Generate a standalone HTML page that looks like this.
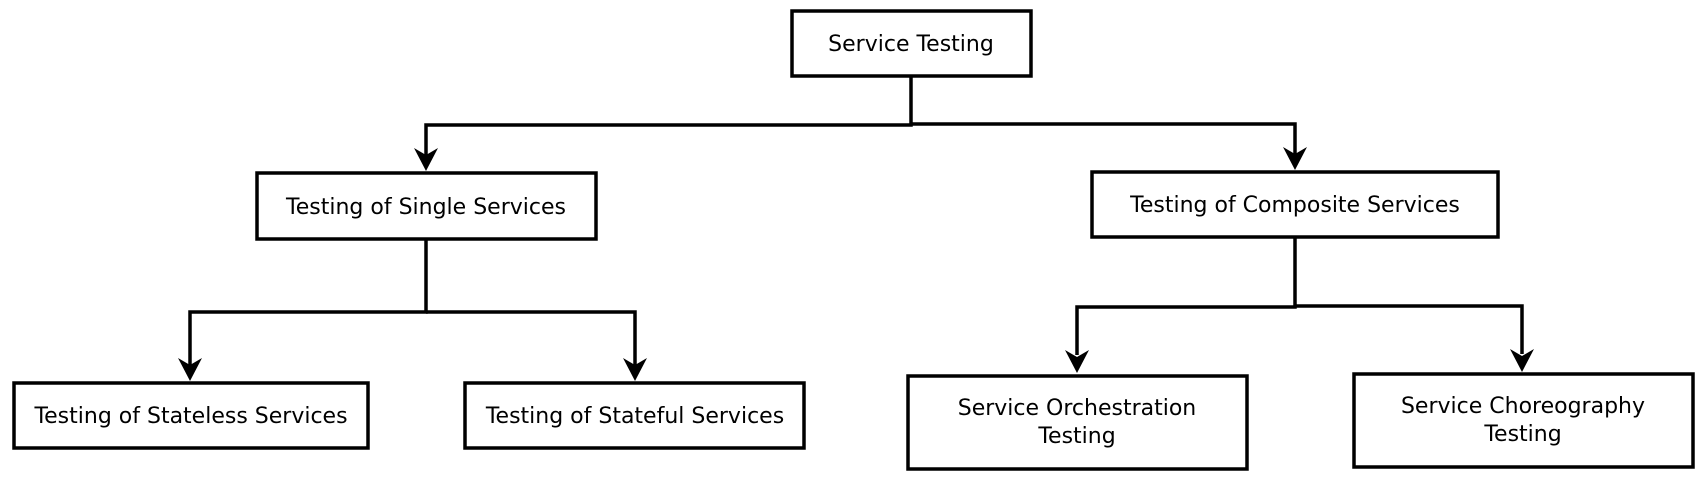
<!DOCTYPE html>
<html><head><meta charset="utf-8"><style>html,body{margin:0;padding:0;background:#fff}svg{display:block}</style></head>
<body>
<svg width="1705" height="488" viewBox="0 0 1705 488" xmlns="http://www.w3.org/2000/svg">
<g fill="none" stroke="#000" stroke-width="3.5">
<rect x="792" y="11" width="239" height="65"/>
<rect x="257" y="173" width="339" height="66"/>
<rect x="1092" y="172" width="406" height="65"/>
<rect x="14" y="383" width="354" height="65"/>
<rect x="465" y="383" width="339" height="65"/>
<rect x="908" y="376" width="339" height="93"/>
<rect x="1354" y="374" width="339" height="93"/>
<polyline points="911,76 911,125 426,125 426,155"/>
<polyline points="911,124 1295,124 1295,154"/>
<polyline points="426,239 426,312 190,312 190,365"/>
<polyline points="426,312 635,312 635,365"/>
<polyline points="1295,237 1295,307 1077,307 1077,355"/>
<polyline points="1295,306 1522,306 1522,354"/>
</g>
<g fill="#000">
<polygon points="414,148 426,171 438,148 426,155"/>
<polygon points="1283,147 1295,170 1307,147 1295,154"/>
<polygon points="178,358 190,381 202,358 190,365"/>
<polygon points="623,358 635,381 647,358 635,365"/>
<polygon points="1065,350 1077,373 1089,350 1077,357"/>
<polygon points="1510,349 1522,372 1534,349 1522,356"/>
</g>
<g font-family="'DejaVu Sans','Liberation Sans',sans-serif" font-size="22" text-anchor="middle" fill="#000">
<text x="911" y="51">Service Testing</text>
<text x="426" y="214">Testing of Single Services</text>
<text x="1295" y="212">Testing of Composite Services</text>
<text x="191" y="423">Testing of Stateless Services</text>
<text x="635" y="423">Testing of Stateful Services</text>
<text x="1077" y="415">Service Orchestration</text>
<text x="1077" y="443">Testing</text>
<text x="1523" y="413">Service Choreography</text>
<text x="1523" y="441">Testing</text>
</g>
</svg>
</body></html>
